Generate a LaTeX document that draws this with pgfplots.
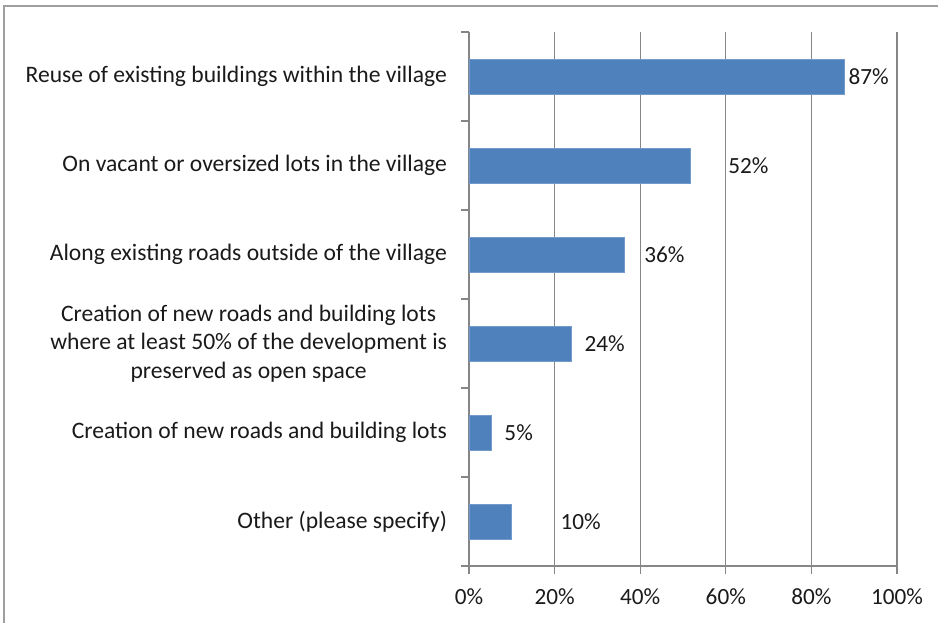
\documentclass[border=0pt]{standalone}
\usepackage{fontspec}
\setmainfont{Carlito}
\usepackage{pgfplots}
\usepackage{pgfplotstable}
\pgfplotsset{compat=1.18}
\definecolor{barblue}{HTML}{4F81BD}
\definecolor{gridgray}{HTML}{868686}
\definecolor{txt}{HTML}{1A1A1A}
\pgfplotstableread{
y val
5 87.6
4 51.8
3 36.4
2 23.8
1 5.1
0 9.8
}\bars
\pgfplotstableread{
x y lab
88.6 5 87\%
60.5 4 52\%
40.9 3 36\%
26.9 2 24\%
8.2 1 5\%
21.3 0 10\%
}\labs
\begin{document}
\begin{tikzpicture}
\useasboundingbox (-234.5pt,-28pt) rectangle (234.5pt,283pt);
\draw[gray!75, line width=1pt] (-232.25pt,-30pt) -- (-232.25pt,280pt) -- (240pt,280pt);
\begin{axis}[
  scale only axis, width=214pt, height=267pt,
  xmin=0, xmax=100, ymin=-0.5, ymax=5.5,
  axis x line*=bottom, axis y line*=left,
  axis line style={gridgray, line width=0.6pt},
  xtick={0,20,40,60,80,100},
  xticklabels={0\%,20\%,40\%,60\%,80\%,100\%},
  ytick={-0.5,0.5,1.5,2.5,3.5,4.5,5.5}, yticklabels={},
  tick align=outside, major tick length=4pt,
  tick style={gridgray, line width=0.6pt},
  xmajorgrids, grid style={gridgray, line width=0.6pt},
  extra y ticks={0,1,2,3,4,5},
  extra y tick labels={Other (please specify),Creation of new roads and building lots,{Creation of new roads and building lots\\where at least 50\% of the development is\\preserved as open space},Along existing roads outside of the village,On vacant or oversized lots in the village,Reuse of existing buildings within the village},
  extra y tick style={major tick length=0pt, ymajorgrids=false, yticklabel style={align=center, xshift=-7.5pt, font=\fontsize{11.8}{14.2}\selectfont}},
  tick label style={font=\fontsize{11.6}{14}\selectfont, text=txt},
  xticklabel style={yshift=-4pt},
  /pgf/number format/assume math mode=true,
  clip=false,
]
\addplot[xbar, bar width=17.5pt, fill=barblue, draw=barblue!80!white, line width=0.3pt] table[x=val, y=y] {\bars};
\addplot[only marks, mark=none, nodes near coords, point meta=explicit symbolic,
  nodes near coords style={anchor=west, inner sep=0pt, font=\fontsize{11.6}{14}\selectfont, text=txt}]
  table[x=x, y=y, meta=lab] {\labs};
\end{axis}
\end{tikzpicture}
\end{document}
